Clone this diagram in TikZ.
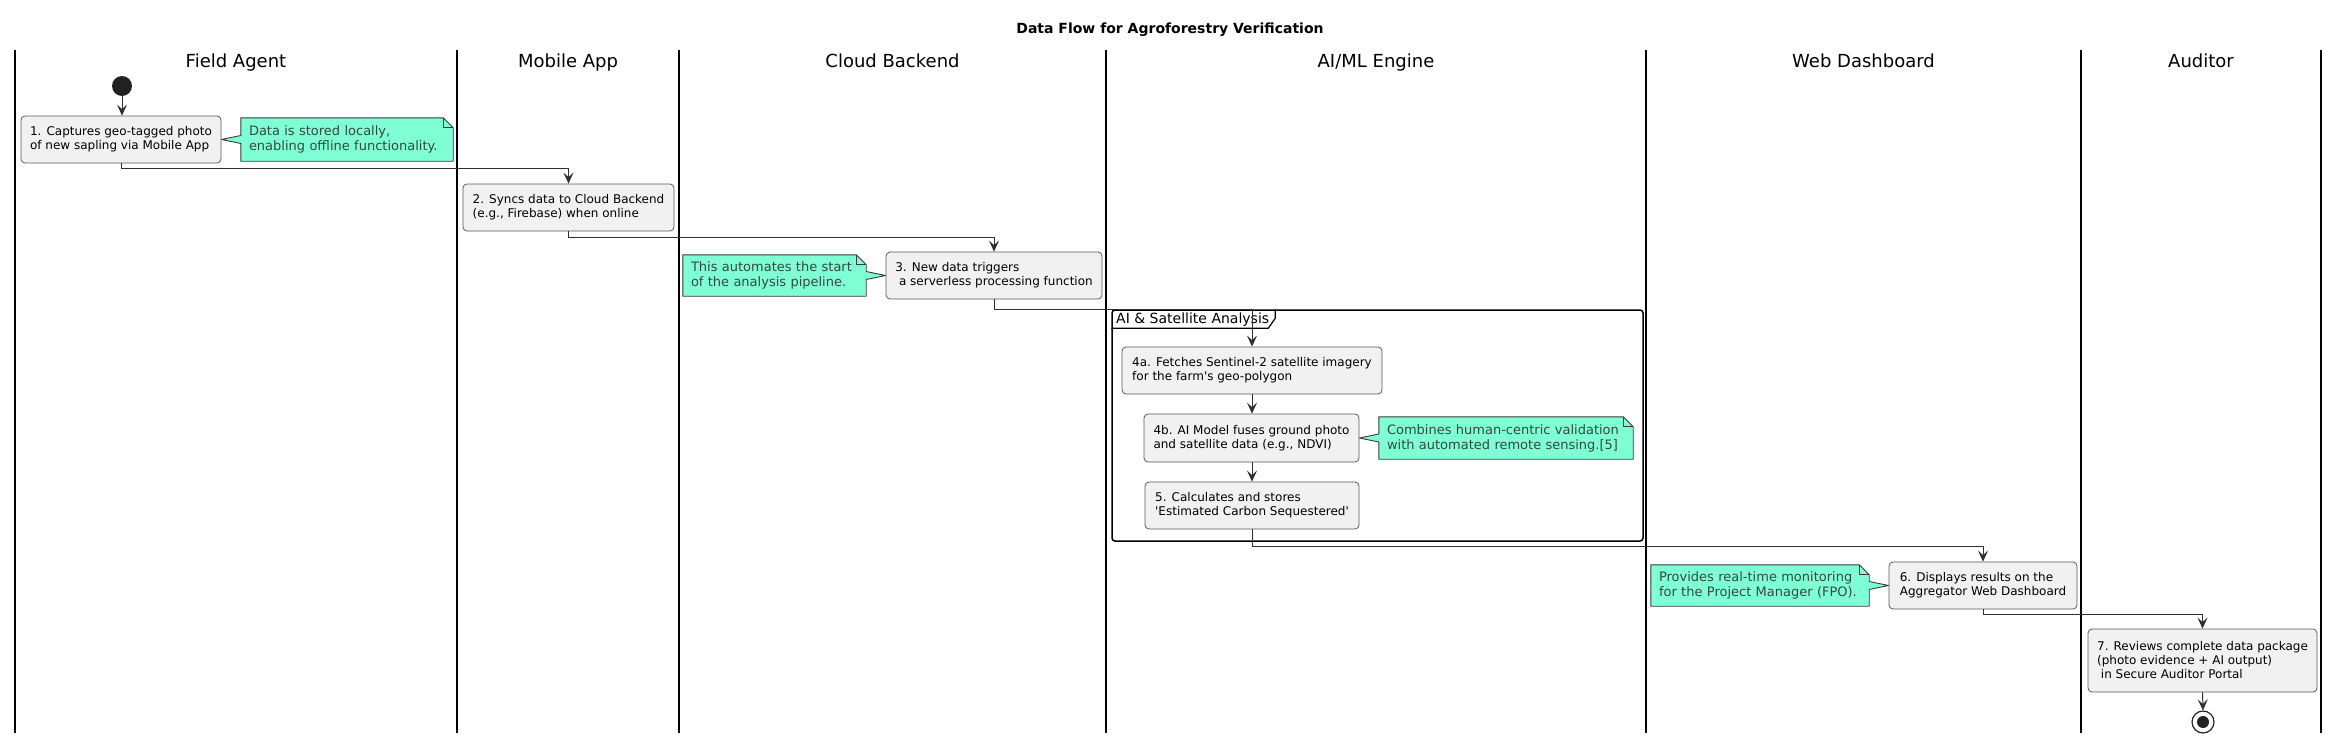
\documentclass[tikz,border=0pt]{standalone}
\usepackage{fontspec}
\setmainfont{DejaVu Sans}[Ligatures=TeXOff]
\usetikzlibrary{arrows.meta,calc}
\definecolor{boxfill}{HTML}{F1F1F1}
\definecolor{boxline}{HTML}{5A5A5A}
\definecolor{notefill}{HTML}{7FFFD4}
\definecolor{noteline}{HTML}{3A3A3A}
\definecolor{notetext}{HTML}{34483F}
\definecolor{arrowc}{HTML}{303030}
\definecolor{dotc}{HTML}{222222}
\pgfdeclarelayer{bg}
\pgfsetlayers{bg,main}
\begin{document}
\begin{tikzpicture}[x=1pt,y=-1pt,
  actbox/.style={draw=boxline, line width=0.8pt, fill=boxfill, rounded corners=4pt, align=left, inner sep=0pt, font=\fontsize{12}{14}\selectfont},
  notebox/.style={align=left, inner xsep=8pt, inner ysep=0pt, text=notetext, font=\fontsize{13}{15}\selectfont},
  noteshape/.style={draw=noteline, line width=0.9pt, fill=notefill, line join=miter},
  notefoldline/.style={draw=noteline, line width=0.9pt},
  flow/.style={draw=arrowc, line width=1pt, -{Stealth[length=11pt,width=10pt,inset=4.5pt]}},
  lane/.style={line width=1.5pt},
  lanehead/.style={anchor=base, inner sep=0pt, font=\fontsize{18}{21}\selectfont},
]
\useasboundingbox (0,0) rectangle (2340,744);

% title and lanes
\node[anchor=base, inner sep=0pt, font=\bfseries\fontsize{14}{17}\selectfont] (title) at (1170,33) {Data Flow for Agroforestry Verification};
\node[lanehead] (h1) at (236,67.5) {Field Agent};
\node[lanehead] (h2) at (568,67.5) {Mobile App};
\node[lanehead] (h3) at (892.5,67.5) {Cloud Backend};
\node[lanehead] (h4) at (1376,67.5) {AI/ML Engine};
\node[lanehead] (h5) at (1863.5,67.5) {Web Dashboard};
\node[lanehead] (h6) at (2201,67.5) {Auditor};

% group frame
\node[draw, line width=1.5pt, rounded corners=3pt, minimum width=531pt, minimum height=231pt, inner sep=0pt] (frame) at (1377.5,425.5) {};
\draw[line width=1.2pt] (frame.north west) ++(0,19) -- ++(157,0) -- ++(7,-10) -- ++(0,-9);
\node[anchor=west, inner sep=0pt, font=\fontsize{14}{16}\selectfont] (grp) at (1116,319.5) {AI \& Satellite Analysis};

% start / end
\node[circle, fill=dotc, minimum size=20pt, inner sep=0pt] (start) at (122,86) {};
\node[circle, draw=dotc, line width=1.2pt, fill=white, minimum size=22pt, inner sep=0pt] (end) at (2203,722) {};
\node[circle, fill=dotc, minimum size=12pt, inner sep=0pt] (endin) at (end) {};

% activities
\node[actbox, minimum width=200pt, minimum height=47pt] (b1) at (121,139.5) {1. Captures geo-tagged photo\\of new sapling via Mobile App};
\node[actbox, minimum width=211pt, minimum height=47pt] (b2) at (568.5,207.5) {2. Syncs data to Cloud Backend\\(e.g., Firebase) when online};
\node[actbox, minimum width=216pt, minimum height=47pt] (b3) at (994,275.5) {3. New data triggers\\\mbox{} a serverless processing function};
\node[actbox, minimum width=260pt, minimum height=47pt] (b4a) at (1252,370.5) {4a. Fetches Sentinel-2 satellite imagery\\for the farm's geo-polygon};
\node[actbox, minimum width=215pt, minimum height=48pt] (b4b) at (1251.5,438) {4b. AI Model fuses ground photo\\and satellite data (e.g., NDVI)};
\node[actbox, minimum width=214pt, minimum height=47pt] (b5) at (1252,505.5) {5. Calculates and stores\\'Estimated Carbon Sequestered'};
\node[actbox, minimum width=188pt, minimum height=47pt] (b6) at (1983,585.5) {6. Displays results on the\\Aggregator Web Dashboard};
\node[actbox, minimum width=229pt, minimum height=63pt] (b7) at (2202.5,660.5) {7. Reviews complete data package\\(photo evidence + AI output)\\\mbox{} in Secure Auditor Portal};

% notes (text)
\node[notebox, text width=196pt, minimum height=43pt] (n1) at (347,139.5) {Data is stored locally,\\enabling offline functionality.};
\node[notebox, text width=167pt, minimum height=41pt] (n3) at (774.5,275.5) {This automates the start\\of the analysis pipeline.};
\node[notebox, text width=238pt, minimum height=42pt] (n4) at (1506,438) {Combines human-centric validation\\with automated remote sensing.[5]};
\node[notebox, text width=202pt, minimum height=41pt] (n6) at (1760,585.5) {Provides real-time monitoring\\for the Project Manager (FPO).};

\begin{pgfonlayer}{bg}
  % lanes
  \foreach \lx/\nm in {15/l0,457/l1,679/l2,1106/l3,1646/l4,2081/l5,2321/l6} {
    \coordinate (\nm top) at (\lx,50);
    \coordinate (\nm bot) at (\lx,733);
    \draw[lane] (\nm top) -- (\nm bot);
  }
  % notes pointing left (to box on their left)
  \foreach \n/\b in {n1/b1,n4/b4b} {
    \path[noteshape] (\n.north west) -- ($(\n.north east)+(-10,0)$) -- ($(\n.north east)+(0,10)$)
      -- (\n.south east) -- (\n.south west) -- ($(\n.west)+(0,4)$) -- (\b.east) -- ($(\n.west)+(0,-4)$) -- cycle;
    \path[notefoldline] ($(\n.north east)+(-10,0)$) -- ($(\n.north east)+(-10,10)$) -- ($(\n.north east)+(0,10)$);
  }
  % notes pointing right (to box on their right)
  \foreach \n/\b in {n3/b3,n6/b6} {
    \path[noteshape] (\n.north west) -- ($(\n.north east)+(-10,0)$) -- ($(\n.north east)+(0,10)$)
      -- ($(\n.east)+(0,-4)$) -- (\b.west) -- ($(\n.east)+(0,4)$) -- (\n.south east) -- (\n.south west) -- cycle;
    \path[notefoldline] ($(\n.north east)+(-10,0)$) -- ($(\n.north east)+(-10,10)$) -- ($(\n.north east)+(0,10)$);
  }
\end{pgfonlayer}

% connectors
\draw[flow] (start.south) -- (start.south |- b1.north);
\draw[flow] (b1.south) -- ++(0,5) -| (b2.north);
\draw[flow] (b2.south) -- ++(0,6) -| (b3.north);
\draw[flow] (b3.south) -- ++(0,10) -| (b4a.north);
\draw[flow] (b4a.south) -- (b4a.south |- b4b.north);
\draw[flow] (b4b.south) -- (b4b.south -| b5.north) -- (b5.north);
\draw[flow] (b5.south) -- ++(0,17) -| (b6.north);
\draw[flow] (b6.south) -- ++(0,5) -| (b7.north);
\draw[flow] (b7.south) -- (end.north);
\end{tikzpicture}
\end{document}
